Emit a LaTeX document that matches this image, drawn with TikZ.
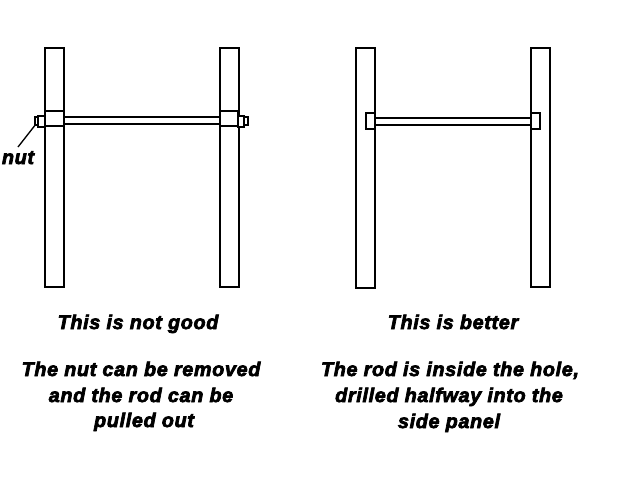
\documentclass[tikz,border=0pt]{standalone}
\usepackage{fontspec}
\setmainfont[ItalicFont={Liberation Sans Bold Italic},ItalicFeatures={FakeBold=3.5,LetterSpace=3.5}]{Liberation Sans}
\tikzset{
  part/.style={draw=black,line width=1.5pt,fill=white},
  caption/.style={anchor=base,inner sep=0pt,font=\fontsize{14.8}{18}\selectfont\itshape},
  leader/.style={draw=black,line width=1pt}
}
\begin{document}
\begin{tikzpicture}[x=0.75pt,y=-0.75pt]
\useasboundingbox (0,0) rectangle (620,479);
% left figure
\draw[part] (64,117) rectangle (220,124);
\draw[part] (45,48) rectangle (64,287);
\draw[part] (220,48) rectangle (239,287);
\draw[part] (45,111) rectangle (64,126);
\draw[part] (220,111) rectangle (238,126);
\draw[part] (34.5,117) rectangle (38,125);
\draw[part] (38,116) rectangle (45,127);
\draw[part] (244,117) -- (248,117) -- (248,125) -- (244,125);
\draw[part] (238,116) rectangle (244,127);
% right figure
\draw[part] (356,48) rectangle (375,288);
\draw[part] (531,48) rectangle (550,287);
\draw[part] (366,113) rectangle (375,129);
\draw[part] (531,113) rectangle (540,129);
\draw[part] (375,118) rectangle (531,125);
% nut label
\node[caption] (nut) at (18,164) {nut};
\coordinate (nuttip) at (36,124);
\draw[leader] (18,147) -- (nuttip);
% captions
\node[caption] (l1) at (138,329) {This is not good};
\node[caption] (l2) at (141,376) {The nut can be removed};
\node[caption] (l3) at (141,402) {and the rod can be};
\node[caption] (l4) at (144,427) {pulled out};
\node[caption] (r1) at (453,329) {This is better};
\node[caption] (r2) at (450,376) {The rod is inside the hole,};
\node[caption] (r3) at (449,402) {drilled halfway into the};
\node[caption] (r4) at (449,428) {side panel};
\end{tikzpicture}
\end{document}
